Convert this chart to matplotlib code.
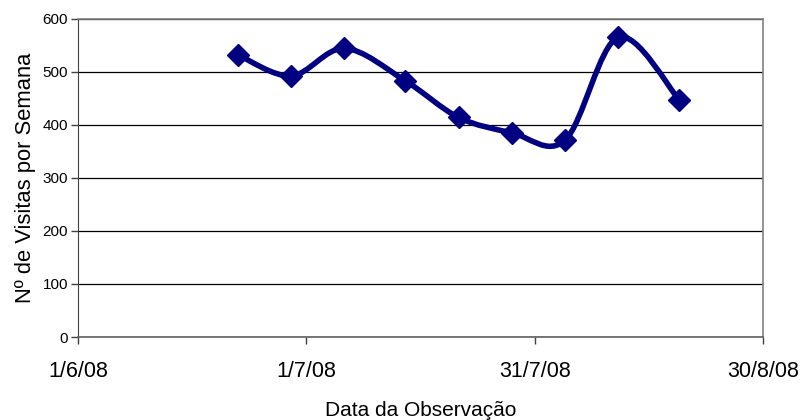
import matplotlib
matplotlib.use('Agg')
import matplotlib.pyplot as plt
import matplotlib.dates as mdates
from matplotlib.path import Path
from matplotlib.patches import PathPatch
import numpy as np
import datetime as dt

plt.rcParams['font.family'] = ['Liberation Sans', 'DejaVu Sans']

# weekly observations
dates = ["2008-06-22", "2008-06-29", "2008-07-06", "2008-07-14", "2008-07-21",
         "2008-07-28", "2008-08-04", "2008-08-11", "2008-08-19"]
visits = [532, 492, 544, 483, 414, 385, 371, 565, 447]
tick_dates = ["2008-06-01", "2008-07-01", "2008-07-31", "2008-08-30"]
tick_labels = ["1/6/08", "1/7/08", "31/7/08", "30/8/08"]

x = mdates.date2num([dt.datetime.fromisoformat(d) for d in dates])
y = np.array(visits, dtype=float)
xt = mdates.date2num([dt.datetime.fromisoformat(d) for d in tick_dates])

# smoothed line like Excel (Catmull-Rom bezier through the points)
pts = np.column_stack([x, y])
verts = [pts[0]]
codes = [Path.MOVETO]
n = len(pts)
for i in range(n - 1):
    p0 = pts[i - 1] if i > 0 else pts[i]
    p1 = pts[i]
    p2 = pts[i + 1]
    p3 = pts[i + 2] if i + 2 < n else pts[i + 1]
    c1 = p1 + (p2 - p0) / 6
    c2 = p2 - (p3 - p1) / 6
    verts += [c1, c2, p2]
    codes += [Path.CURVE4] * 3

navy = '#000080'
fig = plt.figure(figsize=(8.03, 4.2), dpi=100)
ax = fig.add_axes([0.0971, 0.1976, 0.853, 0.758])
ax.add_patch(PathPatch(Path(verts, codes), fill=False, edgecolor=navy,
                       lw=4, capstyle='round', joinstyle='round', zorder=3))
ax.plot(x, y, linestyle='none', marker='D', markersize=11, color=navy, zorder=4)

ax.set_xlim(xt[0], xt[-1])
ax.set_ylim(0, 600)
ax.set_yticks(range(0, 601, 100))
ax.set_xticks(xt)
ax.set_xticklabels(tick_labels, fontsize=15.5)
ax.tick_params(axis='y', labelsize=11, length=5, width=1, color='#404040', pad=2)
ax.tick_params(axis='x', length=5, width=1, color='#404040', pad=12)
ax.yaxis.grid(True, color='black', lw=0.9)
ax.set_axisbelow(True)
for s in ['top', 'right']:
    ax.spines[s].set_color('#808080')
    ax.spines[s].set_linewidth(1.2)
ax.spines['left'].set_color('#404040')
ax.spines['bottom'].set_color('#606060')
ax.spines['bottom'].set_linewidth(1.2)

ax.set_ylabel("Nº de Visitas por Semana", fontsize=15.8, labelpad=5)
ax.set_xlabel("Data da Observação", fontsize=15, labelpad=14)

fig.savefig("out.png", dpi=100)
